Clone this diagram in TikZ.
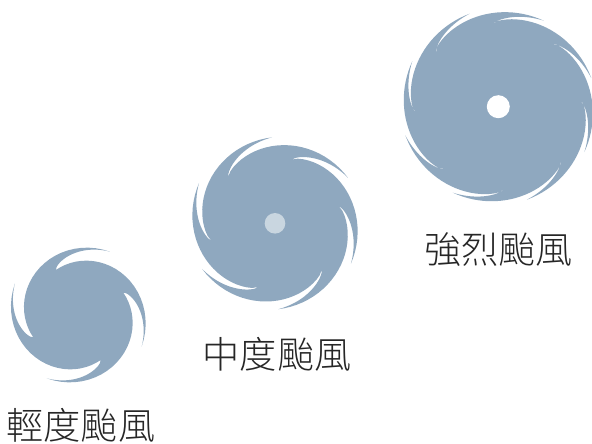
\documentclass[tikz,border=0pt]{standalone}
\usepackage{fontspec}
\newfontfamily\cjk{Noto Sans CJK TC Light}
\definecolor{stormblue}{HTML}{8FA8BF}
\definecolor{eyepale}{HTML}{C9D6E0}
\tikzset{
  label text/.style={font=\cjk\fontsize{37.2}{37.2}\selectfont,text=black!85,inner sep=0pt,anchor=center},
  eye/.style={circle,inner sep=0pt,minimum size=#1}
}
% #1 centre x, #2 centre y, #3 blades, #4 tip angle, #5 tip radius, #6 end radius, #7 outer sweep, #8 outer exponent, #9 return exponent
\newcommand{\stormshape}[9]{%
  \pgfmathsetmacro{\stepa}{360/#3}%
  \pgfmathsetmacro{\swp}{#7}%
  \pgfmathsetmacro{\ret}{#7-\stepa}%
  \pgfmathtruncatemacro{\last}{#3-1}%
  \fill[stormblue,shift={(#1,#2)}] (#4:#5)
  \foreach \k in {0,...,\last} {
    \foreach \i in {1,...,24} {
      -- ({#4+\k*\stepa+\swp*\i/24}:{#5+(#6-#5)*pow(\i/24,#8)})
    }
    \foreach \i in {23,22,...,0} {
      -- ({#4+(\k+1)*\stepa+\ret*\i/24}:{#5+(#6-#5)*pow(\i/24,#9)})
    }
  } -- cycle;
}
\begin{document}
\begin{tikzpicture}[x=1pt,y=-1pt]
\useasboundingbox (0,0) rectangle (592,444);
\begin{scope}
\clip (0,0) rectangle (592,444);
\stormshape{498.3}{106.7}{8}{-139.1}{82.4}{97.3}{77}{0.5}{0.66}
\stormshape{275}{223.3}{6}{-135}{66}{86}{103}{0.656}{0.72}
\stormshape{78.3}{315}{4}{-116.4}{50.3}{70.8}{143}{1.05}{0.67}
\end{scope}
\node[eye=23pt,fill=white] (eyebig) at (498.3,106.7) {};
\node[eye=20.6pt,fill=eyepale] (eyemid) at (275,223.3) {};
\node[label text] (strong) at (498.5,250) {強烈颱風};
\node[label text] (medium) at (277,354) {中度颱風};
\node[label text] (light) at (81,425) {輕度颱風};
\end{tikzpicture}
\end{document}
